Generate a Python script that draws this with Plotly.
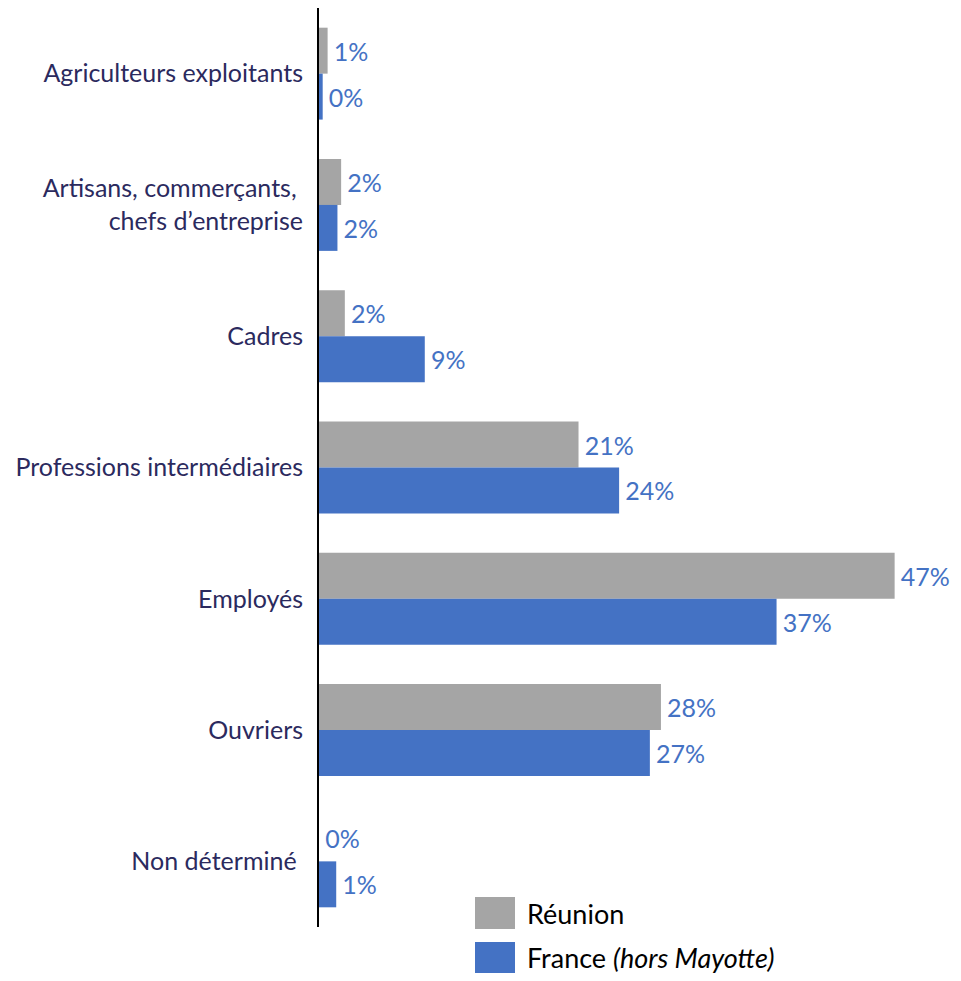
import plotly.graph_objects as go

categories = [
    "Agriculteurs exploitants",
    "Artisans, commerçants,\u00a0<br>chefs d’entreprise",
    "Cadres",
    "Professions intermédiaires",
    "Employés",
    "Ouvriers",
    "Non déterminé\u00a0",
]
reunion = [0.7, 1.8, 2.1, 21.1, 46.8, 27.8, 0.0]
france = [0.3, 1.5, 8.6, 24.4, 37.2, 26.9, 1.4]
series_names = ["Réunion", "France <i>(hors Mayotte)</i>"]
colors = ["#A5A5A5", "#4472C4"]

FONT = "Lato"
OFF = 8  # page body margin
W, H = 945, 965
ML, MT = 319 - OFF, 0
PW = 615
MR = W - ML - PW
MB = H - (927 - OFF)

fig = go.Figure()
for name, vals, col in zip(series_names, [reunion, france], colors):
    fig.add_trace(go.Bar(
        y=categories, x=vals, orientation="h", name=name,
        marker=dict(color=col, line=dict(width=0)),
        text=["\u2009%d%%" % int(v + 0.5) for v in vals],
        textposition="outside", cliponaxis=False,
        textfont=dict(family=FONT, size=25, color="#4472C4"),
        showlegend=False,
    ))

fig.update_layout(
    width=W, height=H,
    margin=dict(l=ML, r=MR, t=MT, b=MB),
    paper_bgcolor="white", plot_bgcolor="white",
    barmode="group", bargap=0.3, bargroupgap=0,
    font=dict(family=FONT, size=25, color="#2B2A5E"),
    xaxis=dict(visible=False, range=[0, 50]),
    yaxis=dict(
        autorange="reversed", showline=True, linecolor="black", linewidth=2,
        showgrid=False, zeroline=False, ticks="", ticklabelstandoff=9,
        tickfont=dict(family=FONT, size=25, color="#2B2A5E"),
    ),
)

# custom legend
pw = W - ML - MR
ph = H - MT - MB
def px(x):
    return (x - OFF - ML) / pw
def py(y):
    return (H - MB - (y - OFF)) / ph

legend_rows = [(897, 929), (942, 973)]
for (y0, y1), name, col in zip(legend_rows, series_names, colors):
    fig.add_shape(type="rect", xref="paper", yref="paper",
                  x0=px(475), x1=px(515), y0=py(y1), y1=py(y0),
                  fillcolor=col, line=dict(width=0))
    fig.add_annotation(xref="paper", yref="paper", x=px(525), y=py((y0 + y1) / 2),
                       text=name, showarrow=False, xanchor="left", yanchor="middle",
                       font=dict(family=FONT, size=27, color="black"))

fig.write_html("out.html")
